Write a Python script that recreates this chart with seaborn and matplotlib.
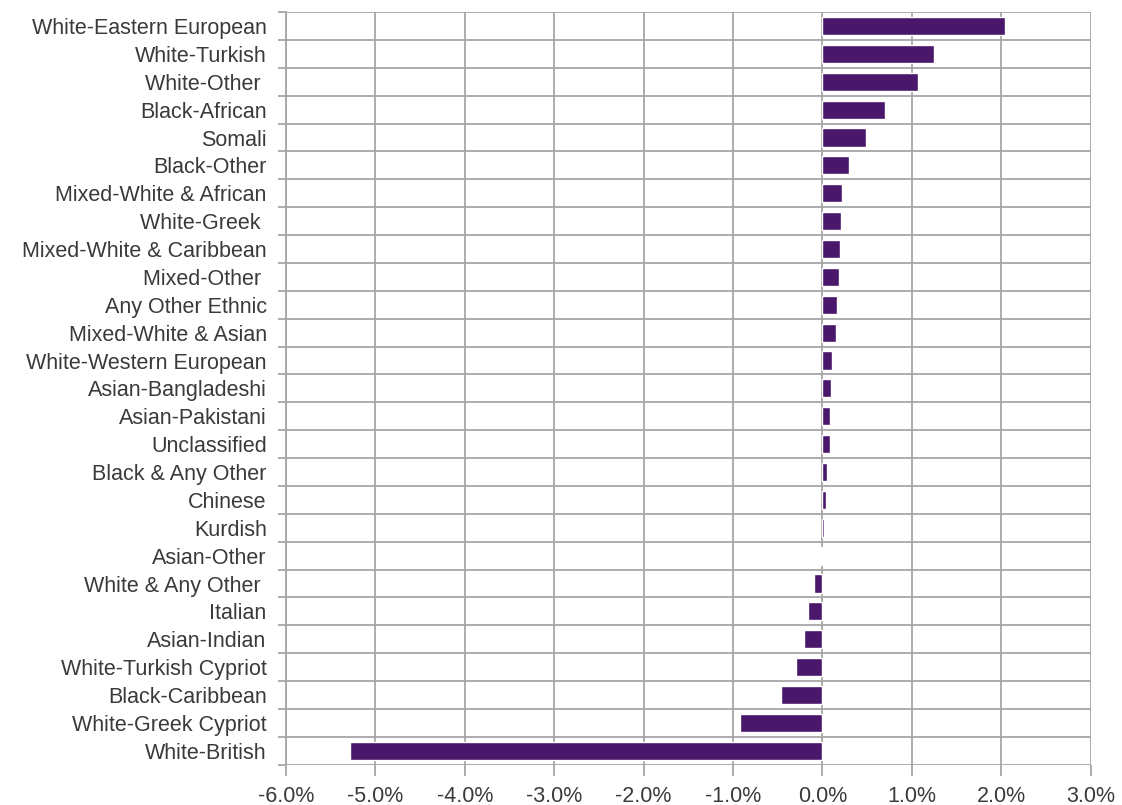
import matplotlib.pyplot as plt
import matplotlib.ticker as mticker
import seaborn as sns
import pandas as pd
import numpy as np

groups = [
    "White-Eastern European", "White-Turkish", "White-Other ", "Black-African",
    "Somali", "Black-Other", "Mixed-White & African", "White-Greek ",
    "Mixed-White & Caribbean", "Mixed-Other ", "Any Other Ethnic",
    "Mixed-White & Asian", "White-Western European", "Asian-Bangladeshi",
    "Asian-Pakistani", "Unclassified", "Black & Any Other", "Chinese",
    "Kurdish", "Asian-Other", "White & Any Other ", "Italian", "Asian-Indian",
    "White-Turkish Cypriot", "Black-Caribbean", "White-Greek Cypriot",
    "White-British",
]
change_pct = [
    2.04, 1.25, 1.07, 0.70, 0.485, 0.295, 0.22, 0.21, 0.195, 0.19, 0.168,
    0.153, 0.108, 0.10, 0.09, 0.085, 0.05, 0.035, 0.02, -0.02, -0.094,
    -0.16, -0.205, -0.30, -0.46, -0.925, -5.29,
]

df = pd.DataFrame({"group": groups, "change": change_pct})

sns.set_style("white")
plt.rcParams["font.family"] = ["Liberation Sans", "DejaVu Sans"]

fig, ax = plt.subplots(figsize=(11.22, 8.05), dpi=100)
fig.subplots_adjust(left=0.255, right=0.972, top=0.985, bottom=0.05)

sns.barplot(data=df, x="change", y="group", color="#4a186b", width=0.65,
            saturation=1, ax=ax)

grid_col = "#a6a6a6"
ax.set_xlim(-6, 3)
ax.set_ylim(len(groups) - 0.5, -0.5)
ax.set_xticks(np.arange(-6, 3.5, 1))
ax.xaxis.set_major_formatter(mticker.FuncFormatter(lambda v, p: f"{v:.1f}%"))
ax.set_yticks(np.arange(len(groups) + 1) - 0.5, minor=True)
ax.set_axisbelow(True)
ax.grid(True, axis="x", which="major", color=grid_col, lw=1.3)
ax.grid(True, axis="y", which="minor", color=grid_col, lw=1.3)
ax.grid(False, axis="y", which="major")

ax.tick_params(axis="y", which="major", length=0, pad=14, labelsize=15.5,
               labelcolor="#3a3a3a")
ax.tick_params(axis="y", which="minor", length=6, width=1.3, color=grid_col,
               direction="out", left=True)
ax.tick_params(axis="x", which="major", length=8, width=1.3, color=grid_col,
               direction="out", bottom=True, labelsize=15.5, labelcolor="#3a3a3a",
               pad=7)

for side in ["top", "right", "bottom"]:
    ax.spines[side].set_visible(False)
ax.spines["left"].set_color(grid_col)
ax.spines["left"].set_linewidth(1.3)

ax.set_xlabel("")
ax.set_ylabel("")

plt.savefig("out.png", dpi=100)
